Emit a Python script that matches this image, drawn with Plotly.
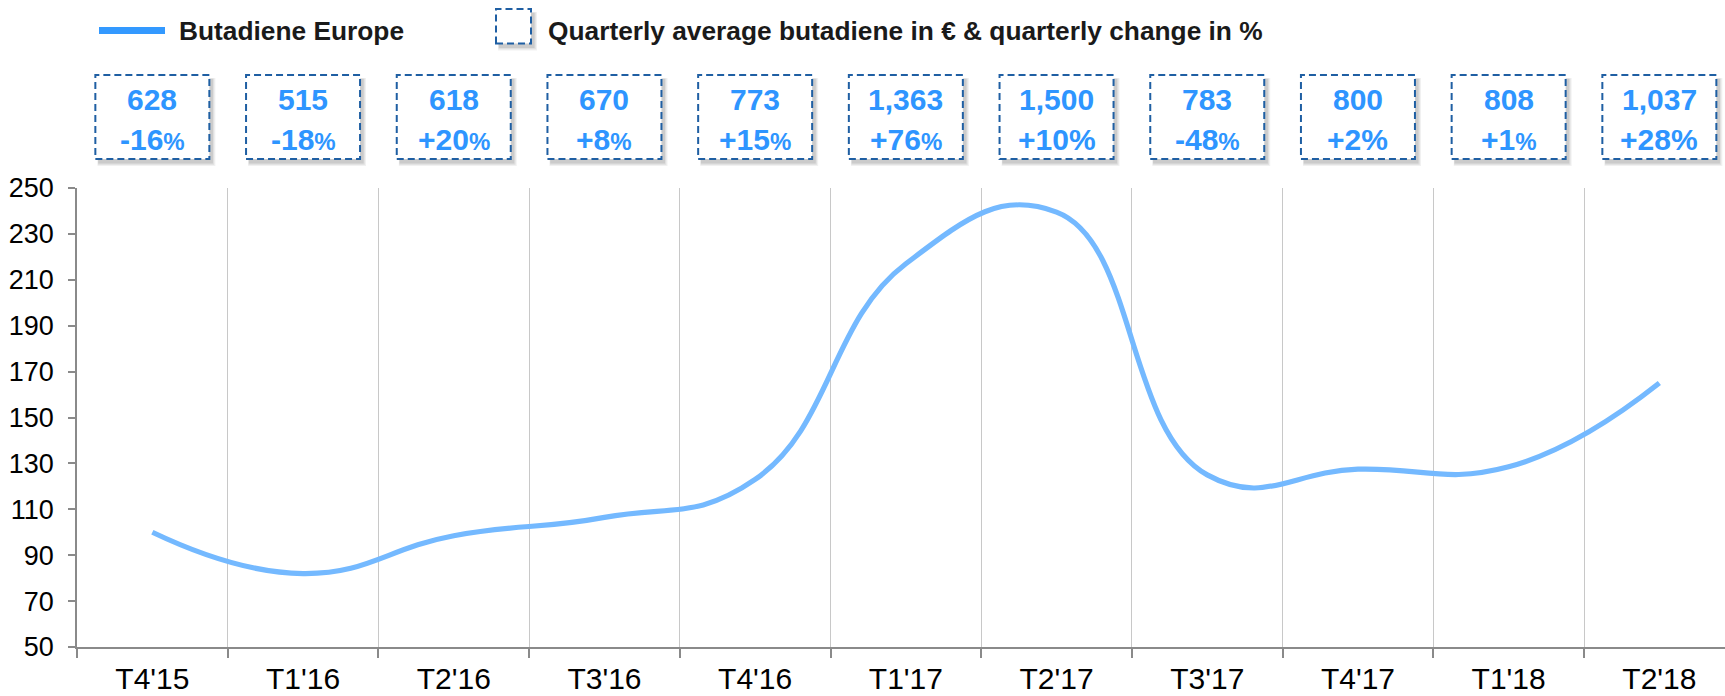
import plotly.graph_objects as go

# Quarters on the category axis
quarters = ["T4'15", "T1'16", "T2'16", "T3'16", "T4'16", "T1'17",
            "T2'17", "T3'17", "T4'17", "T1'18", "T2'18"]

# Butadiene Europe price index (T4'15 = 100)
butadiene_index = [100, 82, 98.5, 106.5, 123, 217, 239.5, 125, 127.5, 128.5, 165]

# Quarterly average butadiene price in EUR and quarterly change in %
avg_eur = [628, 515, 618, 670, 773, 1363, 1500, 783, 800, 808, 1037]
change_pct = [-16, -18, 20, 8, 15, 76, 10, -48, 2, 1, 28]

# y-axis ticks
y_ticks = [50, 70, 90, 110, 130, 150, 170, 190, 210, 230, 250]

# which change labels use the reduced-size percent sign
small_pct = [True, True, True, True, True, True, False, True, False, True, False]

W, H = 1725, 696
ML, MR, MT, MB = 77, 0, 188, 49
PW, PH = W - ML - MR, H - MT - MB
CAT_W = 150.7  # pixels per category
X_RANGE = [-0.5, -0.5 + PW / CAT_W]

FONT = "Liberation Sans, Arial, sans-serif"
TEXT_DARK = "#1a1a1a"
LABEL_BLUE = "#2e95ff"
BOX_BLUE = "#1f5fa3"
LINE_BLUE = "#74b9ff"
LEGEND_BLUE = "#3399ff"
AXIS_GREY = "#8a8a8a"
GRID_GREY = "#c8c8c8"
DASH = "7px,4px"


def px_x(p):
    """pixel x on the page -> paper x"""
    return (p - ML) / PW


def px_y(p):
    """pixel y on the page -> paper y"""
    return (H - MB - p) / PH


fig = go.Figure()
fig.add_trace(go.Scatter(
    x=quarters, y=butadiene_index, mode="lines",
    line=dict(color=LINE_BLUE, width=5.2, shape="spline", smoothing=1.3),
    showlegend=False, hoverinfo="skip",
))

shapes = []
annotations = []


def shadow_rects(x0, x1, y0, y1, xref, dx, dy):
    """soft drop shadow built from a few translucent layers"""
    out = []
    for grow, op in [(3.0, 0.07), (1.8, 0.09), (0.6, 0.12)]:
        out.append(dict(
            type="rect", xref=xref, yref="paper",
            x0=x0 + dx[0] - dx[1] * grow * 0.3, x1=x1 + dx[0] + dx[1] * grow,
            y0=y0 - dy[0] - dy[1] * grow, y1=y1 - dy[0] + dy[1] * grow * 0.3,
            line=dict(width=0), fillcolor=f"rgba(60,60,60,{op})", layer="below",
        ))
    return out


# value boxes above each quarter
half_w = 57 / CAT_W
box_top, box_bot = px_y(75), px_y(159)
one_px_x, one_px_y = 1 / CAT_W, 1 / PH
for i, (v, c, sm) in enumerate(zip(avg_eur, change_pct, small_pct)):
    x0, x1 = i - half_w, i + half_w
    shapes += shadow_rects(x0, x1, box_bot, box_top, "x",
                           (3 * one_px_x, one_px_x), (4 * one_px_y, one_px_y))
    shapes.append(dict(
        type="rect", xref="x", yref="paper", x0=x0, x1=x1, y0=box_bot, y1=box_top,
        line=dict(color=BOX_BLUE, width=2, dash=DASH), fillcolor="white",
    ))
    annotations.append(dict(
        x=i, y=px_y(99.5), xref="x", yref="paper", showarrow=False,
        text=f"<b>{v:,}</b>", font=dict(family=FONT, size=30, color=LABEL_BLUE),
        xanchor="center", yanchor="middle",
    ))
    pct = "<span style='font-size:24px'>%</span>" if sm else "%"
    annotations.append(dict(
        x=i, y=px_y(139.5), xref="x", yref="paper", showarrow=False,
        text=f"<b>{c:+d}{pct}</b>", font=dict(family=FONT, size=30, color=LABEL_BLUE),
        xanchor="center", yanchor="middle",
    ))

# legend: line sample
shapes.append(dict(
    type="line", xref="paper", yref="paper",
    x0=px_x(99), x1=px_x(165), y0=px_y(30.5), y1=px_y(30.5),
    line=dict(color=LEGEND_BLUE, width=7),
))
annotations.append(dict(
    x=px_x(177), y=px_y(31), xref="paper", yref="paper", showarrow=False,
    text="<b>Butadiene Europe</b>", font=dict(family=FONT, size=26.3, color=TEXT_DARK),
    xanchor="left", yanchor="middle",
))

# legend: dashed box sample
lx0, lx1, ly0, ly1 = px_x(496), px_x(531), px_y(43.5), px_y(9)
shapes += shadow_rects(lx0, lx1, ly0, ly1, "paper",
                       (3 / PW, 1 / PW), (4 * one_px_y, one_px_y))
shapes.append(dict(
    type="rect", xref="paper", yref="paper", x0=lx0, x1=lx1, y0=ly0, y1=ly1,
    line=dict(color=BOX_BLUE, width=2, dash=DASH), fillcolor="white",
))
annotations.append(dict(
    x=px_x(546), y=px_y(31), xref="paper", yref="paper", showarrow=False,
    text="<b>Quarterly average butadiene in € & quarterly change in %</b>",
    font=dict(family=FONT, size=26.3, color=TEXT_DARK),
    xanchor="left", yanchor="middle",
))

fig.update_layout(
    width=W, height=H,
    margin=dict(l=ML, r=MR, t=MT, b=MB, pad=0, autoexpand=False),
    paper_bgcolor="white", plot_bgcolor="white",
    shapes=shapes, annotations=annotations,
    showlegend=False,
    xaxis=dict(
        type="category", range=X_RANGE, tickson="boundaries",
        showgrid=True, gridcolor=GRID_GREY, gridwidth=1,
        showline=True, linecolor=AXIS_GREY, linewidth=1.6,
        ticks="outside", ticklen=9, tickcolor=AXIS_GREY, tickwidth=1.6,
        tickfont=dict(family=FONT, size=30, color="black"),
        ticklabelstandoff=4, zeroline=False, fixedrange=True, automargin=False,
    ),
    yaxis=dict(
        range=[50, 250], tickvals=y_ticks,
        showgrid=False, zeroline=False,
        showline=True, linecolor=AXIS_GREY, linewidth=1.6,
        ticks="outside", ticklen=7, tickcolor=AXIS_GREY, tickwidth=1.6,
        tickfont=dict(family=FONT, size=27, color="black"),
        ticklabelstandoff=9, fixedrange=True, automargin=False,
    ),
)

fig.write_html("out.html")
